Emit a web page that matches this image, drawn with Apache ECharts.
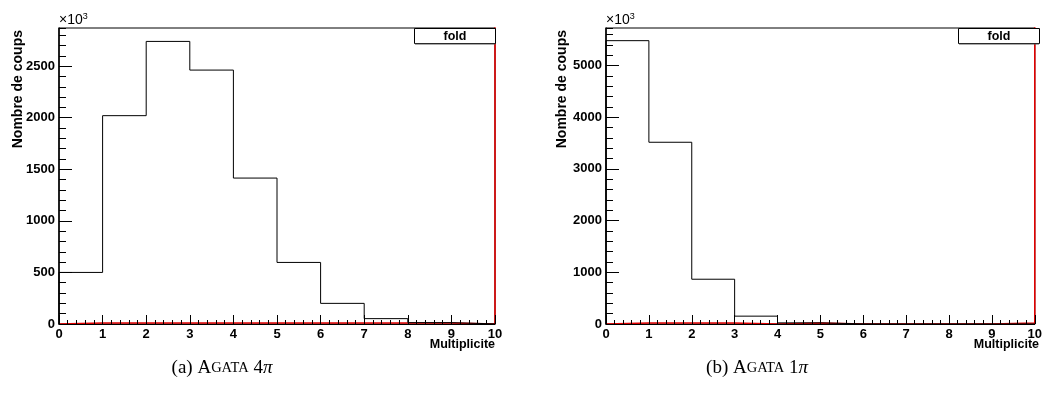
<!DOCTYPE html>
<html>
<head>
<meta charset="utf-8">
<script src="https://cdn.jsdelivr.net/npm/echarts@6/dist/echarts.min.js"></script>
<style>html,body{margin:0;padding:0;background:#fff}#c{width:1045px;height:394px}</style>
</head>
<body>
<div id="c"></div>
<script>
// ---- data ----
const binEdges = [0,1,2,3,4,5,6,7,8,9,10];
const countsA = [500, 2020, 2740, 2462, 1415, 597, 200, 52, 13, 1];      // Agata 4pi (x10^3)
const countsB = [5480, 3515, 866, 152, 22, 2, 0, 0, 0, 0];               // Agata 1pi (x10^3)
const redA = [10, 10, 10, 10, 10, 10, 10, 10, 10, 0];                    // red histogram (near zero)
const redB = [20, 20, 20, 0, 20, 0, 0, 0, 0, 20];
const redOverflowA = 3000;
const redOverflowB = 6000;
const yMaxA = 2870, yMaxB = 5725;
const xTickLabels = ['0','1','2','3','4','5','6','7','8','9','10'];
const legendLabel = 'fold';
const xTitle = 'Multiplicite';
const yTitle = 'Nombre de coups';
const captions = ['(a) ', '(b) '];
const captionNum = ['4', '1'];

function steps(vals, endVal) {
  const pts = [[binEdges[0], 0]];
  vals.forEach((v, i) => { pts.push([binEdges[i], v]); pts.push([binEdges[i+1], v]); });
  pts.push([binEdges[binEdges.length-1], endVal]);
  return pts;
}

const font = 'Liberation Sans, Arial, sans-serif';
const serif = 'Liberation Serif, serif';
const grids = [
  {left: 59, top: 28, width: 436, height: 296},
  {left: 606, top: 28, width: 433, height: 296}
];

const chart = echarts.init(document.getElementById('c'), null, {renderer: 'canvas'});

function xAxis(i) {
  return {
    type: 'value', gridIndex: i, min: 0, max: 10, interval: 1, z: 5,
    axisLine: {onZero: false, lineStyle: {color: '#000', width: 1}},
    axisTick: {inside: true, length: 9, lineStyle: {color: '#000'}},
    minorTick: {show: true, splitNumber: 5, length: 4, lineStyle: {color: '#000'}},
    splitLine: {show: false},
    axisLabel: {margin: 4, fontWeight: 'bold', fontSize: 13, color: '#000', fontFamily: font,
      formatter: v => xTickLabels[Math.round(v)] }
  };
}
function yAxisMajor(i, max, interval) {
  return {
    type: 'value', gridIndex: i, min: 0, max: max, interval: interval, position: 'left', z: 5,
    axisLine: {show: true, onZero: false, lineStyle: {color: '#000', width: 1.5}},
    axisTick: {show: true, inside: true, length: 13, lineStyle: {color: '#000'}},
    splitLine: {show: false},
    axisLabel: {margin: 4, fontWeight: 'bold', fontSize: 13, color: '#000', fontFamily: font,
      showMaxLabel: false, formatter: v => (v % interval === 0 ? String(v) : '')}
  };
}
function yAxisMinor(i, max, interval) {
  return {
    type: 'value', gridIndex: i, min: 0, max: max, interval: interval, position: 'left', offset: 0, z: 5,
    axisLine: {show: false},
    axisTick: {show: true, inside: true, length: 7, lineStyle: {color: '#000'}},
    splitLine: {show: false},
    axisLabel: {show: false}
  };
}

function histSeries(name, xi, yi, vals, endVal, color, z, w) {
  return {
    type: 'line', name: name, xAxisIndex: xi, yAxisIndex: yi, data: steps(vals, endVal),
    symbol: 'none', clip: true, z: z,
    lineStyle: {color: color, width: w}, itemStyle: {color: color}
  };
}

function panelGraphics(g, i) {
  const L = g.left, R = g.left + g.width, T = g.top, B = g.top + g.height;
  const yTitleX = i === 0 ? 18 : 562;
  return [
    {type: 'text', left: L, top: 12, style: {text: '\u00d710{s|3}', fontSize: 14, fill: '#000', fontFamily: font,
      rich: {s: {fontSize: 9, verticalAlign: 'top', padding: [0,0,7,0], fontFamily: font}}}},
    {type: 'text', x: yTitleX, y: T + 2, rotation: Math.PI / 2,
      style: {text: yTitle, fontSize: 14, fontWeight: 'bold', fill: '#000', fontFamily: font, align: 'right', verticalAlign: 'middle'}},
    {type: 'text', x: R, y: B + 21, style: {text: xTitle, fontSize: 12.5, fontWeight: 'bold', fill: '#000', fontFamily: font, align: 'right', verticalAlign: 'middle'}},
    {type: 'rect', shape: {x: R - 80.5, y: T + 0.5, width: 81, height: 15}, z: 10,
      style: {fill: '#fff', stroke: '#000', lineWidth: 1}},
    {type: 'line', shape: {x1: R - 80, y1: T + 16, x2: R, y2: T + 16}, z: 10, style: {stroke: '#555', lineWidth: 1}},
    {type: 'text', x: R - 40, y: T + 8.5, z: 11, style: {text: legendLabel, fontSize: 12.5, fontWeight: 'bold', fill: '#000', fontFamily: font, align: 'center', verticalAlign: 'middle'}},
    {type: 'text', x: i === 0 ? 222 : 757, y: 368, style: {
      text: captions[i] + '{b|A}{s|GATA} ' + captionNum[i] + '{p|\u03c0}', fontSize: 19, fill: '#000', fontFamily: serif,
      align: 'center', verticalAlign: 'middle',
      rich: {b: {fontSize: 19, fontFamily: serif}, s: {fontSize: 14.5, fontFamily: serif}, p: {fontSize: 19, fontStyle: 'italic', fontFamily: serif}}}}
  ];
}

const option = {
  animation: false,
  backgroundColor: '#fff',
  grid: grids.map(g => Object.assign({show: true, borderColor: '#000', borderWidth: 1, backgroundColor: '#fff'}, g)),
  xAxis: [xAxis(0), xAxis(1)],
  yAxis: [yAxisMajor(0, yMaxA, 500), yAxisMinor(0, yMaxA, 100), yAxisMajor(1, yMaxB, 1000), yAxisMinor(1, yMaxB, 200)],
  series: [
    histSeries('red A', 0, 0, redA, redOverflowA, '#e00000', 1, 1.6),
    histSeries(legendLabel, 0, 0, countsA, 0, '#000', 2, 1),
    histSeries('red B', 1, 2, redB, redOverflowB, '#e00000', 1, 1.6),
    histSeries(legendLabel + ' B', 1, 2, countsB, 0, '#000', 2, 1)
  ],
  graphic: [].concat(panelGraphics(grids[0], 0), panelGraphics(grids[1], 1))
};
chart.setOption(option);
</script>
</body>
</html>
